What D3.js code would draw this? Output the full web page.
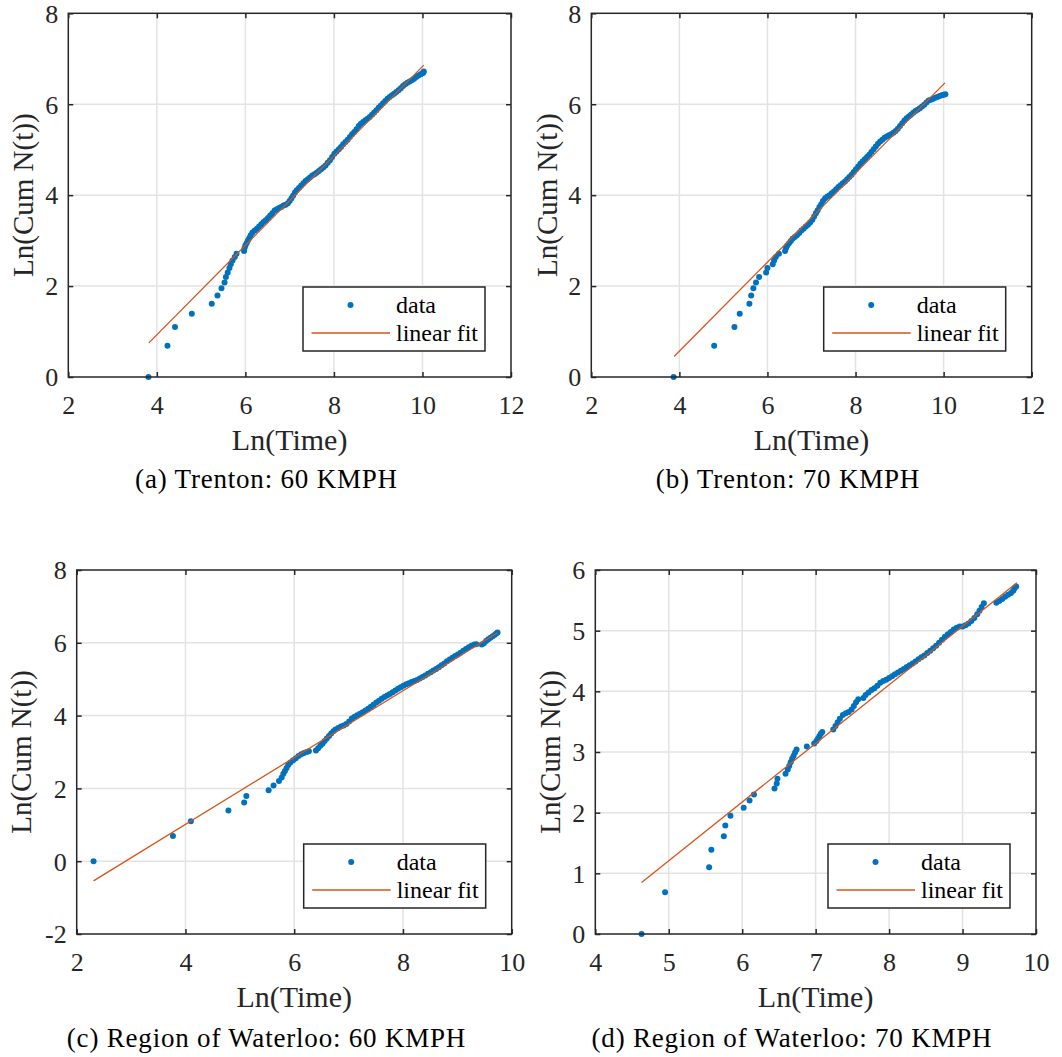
<!DOCTYPE html>
<head>
  <meta charset="utf-8">
  <script src="https://d3js.org/d3.v7.min.js"></script>
  <style>
    body { margin: 0; background: #fff; }
    text { font-family: "Liberation Serif", "Times New Roman", serif; }
  </style>
</head>
<body>
<script type="text/javascript">
  var w = 1062;
  var h = 1057;

  // Ln(Time), Ln(Cum N(t)) pairs
  var trenton60 = [[3.81,0],[4.24,0.69],[4.41,1.10],[4.79,1.39],[5.24,1.61],[5.37,1.79],[5.46,1.95],[5.53,2.08],[5.56,2.20],[5.60,2.30],[5.64,2.40],[5.67,2.48],[5.71,2.56],[5.76,2.64],[5.80,2.71],
    [5.97,2.77],[5.98,2.83],[6.00,2.89],[6.03,2.95],[6.06,3.01],[6.09,3.06],[6.12,3.12],[6.16,3.18],[6.21,3.22],[6.26,3.26],[6.31,3.31],[6.36,3.36],[6.41,3.41],[6.46,3.45],[6.51,3.50],[6.56,3.55],[6.61,3.60],[6.66,3.66],[6.71,3.69],[6.76,3.72],[6.81,3.74],[6.86,3.77],[6.91,3.79],[6.96,3.82],
    [7.00,3.87],[7.04,3.93],[7.08,3.99],[7.12,4.06],[7.16,4.11],[7.21,4.16],[7.26,4.21],[7.31,4.26],[7.36,4.31],[7.41,4.35],[7.46,4.39],[7.51,4.43],[7.56,4.46],[7.61,4.49],[7.66,4.53],[7.71,4.57],[7.76,4.61],[7.81,4.65],[7.86,4.71],[7.91,4.77],[7.96,4.84],
    [8.01,4.91],[8.06,4.96],[8.11,5.01],[8.16,5.06],[8.21,5.12],[8.26,5.17],[8.31,5.22],[8.36,5.28],[8.41,5.34],[8.46,5.39],[8.51,5.45],[8.56,5.52],[8.61,5.57],[8.66,5.61],[8.71,5.65],[8.76,5.68],[8.81,5.72],[8.86,5.77],[8.91,5.82],[8.96,5.87],
    [9.01,5.92],[9.06,5.97],[9.11,6.02],[9.16,6.07],[9.21,6.12],[9.26,6.16],[9.31,6.20],[9.36,6.23],[9.41,6.27],[9.46,6.31],[9.51,6.35],[9.56,6.40],[9.61,6.44],[9.66,6.47],[9.71,6.50],[9.76,6.53],[9.81,6.56],[9.86,6.60],[9.91,6.63],[9.96,6.66],[10.00,6.68],[10.02,6.70],[10.03,6.72]];
  var trenton60Fit = [[3.82,0.75],[10.03,6.86]];

  var trenton70 = [[3.87,0],[4.79,0.69],[5.25,1.10],[5.37,1.39],[5.59,1.61],[5.63,1.79],[5.68,1.95],[5.74,2.08],[5.81,2.20],[5.97,2.30],[6.00,2.40],[6.12,2.48],[6.15,2.56],[6.19,2.64],[6.26,2.71],
    [6.40,2.77],[6.42,2.83],[6.45,2.89],[6.49,2.94],[6.53,2.99],[6.57,3.04],[6.62,3.08],[6.67,3.12],[6.72,3.17],[6.77,3.22],[6.82,3.26],[6.87,3.31],[6.92,3.35],[6.97,3.40],
    [7.02,3.46],[7.06,3.53],[7.10,3.60],[7.14,3.67],[7.18,3.74],[7.22,3.80],[7.26,3.87],[7.31,3.93],[7.36,3.97],[7.41,4.00],[7.46,4.04],[7.51,4.08],[7.56,4.13],[7.61,4.18],[7.66,4.22],[7.71,4.26],[7.76,4.30],[7.81,4.35],[7.86,4.40],[7.91,4.45],[7.96,4.51],
    [8.01,4.57],[8.06,4.63],[8.11,4.69],[8.16,4.74],[8.21,4.79],[8.26,4.84],[8.31,4.89],[8.36,4.95],[8.41,5.01],[8.46,5.07],[8.51,5.13],[8.56,5.18],[8.61,5.22],[8.66,5.26],[8.71,5.29],[8.76,5.32],[8.81,5.34],[8.86,5.37],[8.91,5.41],[8.96,5.46],
    [9.01,5.52],[9.06,5.58],[9.11,5.64],[9.16,5.69],[9.21,5.73],[9.26,5.77],[9.31,5.81],[9.36,5.85],[9.41,5.88],[9.46,5.91],[9.51,5.95],[9.56,5.99],[9.61,6.04],[9.66,6.08],[9.71,6.10],[9.76,6.12],[9.81,6.14],[9.86,6.16],[9.91,6.18],[9.96,6.20],[10.00,6.21],[10.04,6.22]];
  var trenton70Fit = [[3.88,0.45],[10.03,6.47]];

  var waterloo60 = [[2.31,0],[3.77,0.69],[4.10,1.10],[4.79,1.39],[5.08,1.61],[5.12,1.79],[5.53,1.95],[5.62,2.08],[5.72,2.20],[5.77,2.30],[5.80,2.40],[5.83,2.48],[5.86,2.56],[5.89,2.64],[5.93,2.71],[5.98,2.77],[6.03,2.83],[6.08,2.89],[6.13,2.94],[6.18,2.97],[6.23,3.00],[6.27,3.02],
    [6.40,3.04],[6.44,3.10],[6.48,3.17],[6.52,3.23],[6.56,3.30],[6.60,3.37],[6.64,3.44],[6.68,3.51],[6.72,3.57],[6.76,3.62],[6.81,3.66],[6.86,3.70],[6.91,3.73],[6.96,3.77],
    [7.01,3.84],[7.06,3.92],[7.11,3.97],[7.16,4.01],[7.21,4.05],[7.26,4.09],[7.31,4.14],[7.36,4.19],[7.41,4.24],[7.46,4.30],[7.51,4.36],[7.56,4.41],[7.61,4.46],[7.66,4.51],[7.71,4.55],[7.76,4.59],[7.81,4.64],[7.86,4.69],[7.91,4.74],[7.96,4.78],
    [8.01,4.82],[8.06,4.86],[8.11,4.89],[8.16,4.92],[8.21,4.95],[8.26,4.98],[8.31,5.02],[8.36,5.06],[8.41,5.10],[8.46,5.15],[8.51,5.19],[8.56,5.24],[8.61,5.28],[8.66,5.33],[8.71,5.38],[8.76,5.43],[8.81,5.49],[8.86,5.54],[8.91,5.59],[8.96,5.64],
    [9.01,5.68],[9.06,5.73],[9.11,5.78],[9.16,5.83],[9.21,5.88],[9.26,5.92],[9.31,5.95],[9.35,5.96],
    [9.45,5.95],[9.49,5.99],[9.53,6.05],[9.57,6.10],[9.61,6.14],[9.65,6.18],[9.69,6.22],[9.72,6.26],[9.74,6.28]];
  var waterloo60Fit = [[2.31,-0.54],[9.73,6.27]];

  var waterloo70 = [[4.63,0],[4.95,0.69],[5.55,1.10],[5.58,1.39],[5.75,1.61],[5.77,1.79],[5.84,1.95],[6.02,2.08],[6.10,2.20],[6.16,2.30],[6.44,2.40],[6.47,2.48],[6.48,2.56],[6.59,2.64],[6.62,2.71],[6.64,2.77],[6.66,2.83],[6.68,2.89],[6.70,2.94],[6.72,2.99],[6.74,3.04],[6.88,3.09],
    [6.98,3.14],[7.01,3.18],[7.03,3.22],[7.05,3.26],[7.07,3.30],[7.09,3.33],
    [7.24,3.37],[7.27,3.43],[7.30,3.49],[7.33,3.55],[7.37,3.61],[7.41,3.64],[7.45,3.66],[7.49,3.70],[7.52,3.76],[7.55,3.82],[7.58,3.87],
    [7.65,3.89],[7.68,3.94],[7.72,3.98],[7.76,4.02],[7.80,4.05],[7.84,4.09],[7.88,4.14],[7.92,4.17],[7.96,4.19],
    [8.00,4.22],[8.04,4.25],[8.08,4.28],[8.12,4.31],[8.16,4.34],[8.20,4.37],[8.24,4.40],[8.28,4.43],[8.32,4.46],[8.36,4.49],[8.40,4.53],[8.44,4.56],[8.48,4.59],[8.52,4.63],[8.56,4.67],[8.60,4.71],[8.64,4.75],[8.68,4.80],[8.72,4.85],[8.76,4.90],[8.80,4.94],[8.84,4.98],[8.88,5.02],[8.92,5.05],[8.96,5.07],
    [9.00,5.07],[9.04,5.09],[9.08,5.12],[9.12,5.16],[9.16,5.21],[9.20,5.27],[9.23,5.33],[9.26,5.39],[9.29,5.45],
    [9.46,5.46],[9.50,5.49],[9.54,5.52],[9.58,5.56],[9.62,5.59],[9.66,5.62],[9.69,5.66],[9.71,5.70],[9.73,5.73]];
  var waterloo70Fit = [[4.63,0.85],[9.74,5.79]];

  var xTicksTrenton = [2,4,6,8,10,12];
  var yTicksTrenton = [0,2,4,6,8];
  var xTicksW60 = [2,4,6,8,10];
  var yTicksW60 = [-2,0,2,4,6,8];
  var xTicksW70 = [4,5,6,7,8,9,10];
  var yTicksW70 = [0,1,2,3,4,5,6];

  var captions = ["(a) Trenton: 60 KMPH", "(b) Trenton: 70 KMPH",
                  "(c) Region of Waterloo: 60 KMPH", "(d) Region of Waterloo: 70 KMPH"];

  var blue = "#0072BD";
  var orange = "#D95319";
  var axisColor = "#262626";

  var svg = d3.select("body")
    .append("svg")
    .attr("width", w)
    .attr("height", h);

  var panels = [
    {data: trenton60, fit: trenton60Fit, xd: [2,12], yd: [0,8], xt: xTicksTrenton, yt: yTicksTrenton,
     l: 68.3, r: 511, t: 13.3, b: 377, ylab: 35, cap: captions[0], cx: 266.5, cy: 488},
    {data: trenton70, fit: trenton70Fit, xd: [2,12], yd: [0,8], xt: xTicksTrenton, yt: yTicksTrenton,
     l: 591.3, r: 1031.7, t: 13.3, b: 377, ylab: 34, cap: captions[1], cx: 788, cy: 488},
    {data: waterloo60, fit: waterloo60Fit, xd: [2,10], yd: [-2,8], xt: xTicksW60, yt: yTicksW60,
     l: 76.7, r: 511.7, t: 570, b: 934, ylab: 46, cap: captions[2], cx: 266.5, cy: 1047},
    {data: waterloo70, fit: waterloo70Fit, xd: [4,10], yd: [0,6], xt: xTicksW70, yt: yTicksW70,
     l: 595.3, r: 1036, t: 570, b: 934, ylab: 35, cap: captions[3], cx: 792, cy: 1047}
  ];

  // plain hyphen for negatives, like the original
  var fmt = function(d){ return String(d); };

  panels.forEach(function(p){
    var xScale = d3.scaleLinear().domain(p.xd).range([p.l, p.r]);
    var yScale = d3.scaleLinear().domain(p.yd).range([p.b, p.t]);
    var g = svg.append("g");

    // grid
    g.append("g").selectAll("line").data(p.xt.slice(1, -1)).enter().append("line")
      .attr("x1", function(d){ return xScale(d); }).attr("x2", function(d){ return xScale(d); })
      .attr("y1", p.t).attr("y2", p.b)
      .attr("stroke", "#e3e3e3").attr("stroke-width", 1.5);
    g.append("g").selectAll("line").data(p.yt.slice(1, -1)).enter().append("line")
      .attr("y1", function(d){ return yScale(d); }).attr("y2", function(d){ return yScale(d); })
      .attr("x1", p.l).attr("x2", p.r)
      .attr("stroke", "#e3e3e3").attr("stroke-width", 1.5);

    // data dots
    g.append("g").selectAll("circle").data(p.data).enter().append("circle")
      .attr("cx", function(d){ return xScale(d[0]); })
      .attr("cy", function(d){ return yScale(d[1]); })
      .attr("r", 3)
      .attr("fill", blue);

    // linear fit
    g.append("path")
      .datum(p.fit)
      .attr("d", d3.line().x(function(d){ return xScale(d[0]); }).y(function(d){ return yScale(d[1]); }))
      .attr("fill", "none").attr("stroke", orange).attr("stroke-width", 1.3);

    // axes, ticks inside on all four sides
    function style(sel, labels){
      sel.select(".domain").remove();
      sel.selectAll("line").attr("stroke", axisColor).attr("stroke-width", 1.5);
      if (!labels) sel.selectAll("text").remove();
    }
    var bottom = g.append("g").attr("transform", "translate(0," + p.b + ")")
      .call(d3.axisBottom(xScale).tickValues(p.xt).tickSizeInner(-5).tickSizeOuter(0).tickFormat(fmt));
    style(bottom, true);
    bottom.selectAll("text").attr("y", 37).attr("dy", null)
      .attr("fill", axisColor).attr("font-size", 26).attr("font-family", "Liberation Serif");

    var left = g.append("g").attr("transform", "translate(" + p.l + ",0)")
      .call(d3.axisLeft(yScale).tickValues(p.yt).tickSizeInner(-5).tickSizeOuter(0).tickFormat(fmt));
    style(left, true);
    left.selectAll("text").attr("x", -10).attr("dy", "0.34em")
      .attr("fill", axisColor).attr("font-size", 26).attr("font-family", "Liberation Serif");

    var top = g.append("g").attr("transform", "translate(0," + p.t + ")")
      .call(d3.axisTop(xScale).tickValues(p.xt).tickSizeInner(-5).tickSizeOuter(0));
    style(top, false);
    var right = g.append("g").attr("transform", "translate(" + p.r + ",0)")
      .call(d3.axisRight(yScale).tickValues(p.yt).tickSizeInner(-5).tickSizeOuter(0));
    style(right, false);

    g.append("rect")
      .attr("x", p.l).attr("y", p.t).attr("width", p.r - p.l).attr("height", p.b - p.t)
      .attr("fill", "none").attr("stroke", axisColor).attr("stroke-width", 1.5);

    // axis labels
    g.append("text")
      .attr("x", (p.l + p.r) / 2).attr("y", p.b + 73)
      .attr("text-anchor", "middle").attr("font-size", 30).attr("fill", axisColor)
      .text("Ln(Time)");
    g.append("text")
      .attr("transform", "translate(" + (p.l - p.ylab) + "," + ((p.t + p.b) / 2) + ") rotate(-90)")
      .attr("text-anchor", "middle").attr("font-size", 29).attr("fill", axisColor)
      .text("Ln(Cum N(t))");

    // legend
    var lx = p.r - 208, ly = p.b - 90;
    var leg = g.append("g").attr("transform", "translate(" + lx + "," + ly + ")");
    leg.append("rect").attr("width", 182).attr("height", 64)
      .attr("fill", "#fff").attr("stroke", axisColor).attr("stroke-width", 1.5);
    leg.append("circle").attr("cx", 47.5).attr("cy", 18).attr("r", 3).attr("fill", blue);
    leg.append("line").attr("x1", 8.5).attr("x2", 87).attr("y1", 46).attr("y2", 46)
      .attr("stroke", orange).attr("stroke-width", 1.3);
    leg.append("text").attr("x", 93).attr("y", 26).attr("font-size", 24).attr("fill", "#000").text("data");
    leg.append("text").attr("x", 93).attr("y", 54).attr("font-size", 24).attr("fill", "#000").text("linear fit");

    // caption
    g.append("text")
      .attr("x", p.cx).attr("y", p.cy)
      .attr("text-anchor", "middle").attr("font-size", 27).attr("letter-spacing", 0.8).attr("fill", "#000")
      .text(p.cap);
  });
</script>
</body>
